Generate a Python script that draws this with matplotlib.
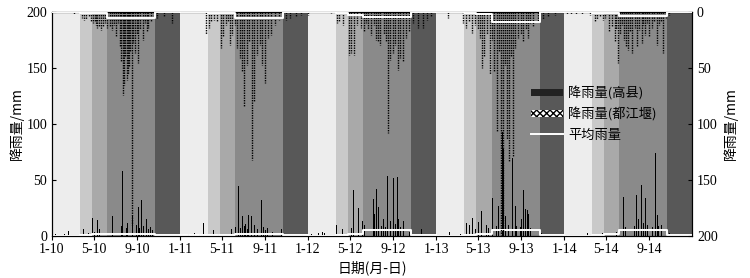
import numpy as np
import matplotlib
matplotlib.use('Agg')
import matplotlib.pyplot as plt
from matplotlib.patches import Patch
from matplotlib.lines import Line2D

plt.rcParams['font.family'] = ['Liberation Serif', 'DejaVu Serif']
cjk = ['Noto Sans CJK SC', 'DejaVu Sans']

years = [2010, 2011, 2012, 2013, 2014]
year_start = [0, 365, 730, 1096, 1461]
year_end = 1826
tick_doy = [0, 120, 243]          # 1-1, 5-1, 9-1
month_lbl = ['1', '5', '9']

# season bands (day of year) and their grey levels
band_edges = [0, 80, 114, 158, 295, 365]
band_colors = ['#ededed', '#c9c9c9', '#a9a9a9', '#8a8a8a', '#585858']

# seasonal mean rainfall (mm) per band, per year
gx_avg = [[0.3, 0.5, 1.8, 1.8, 0.5],
          [0.5, 0.8, 1.2, 1.8, 0.5],
          [0.3, 0.5, 1.8, 5.5, 0.5],
          [0.3, 0.5, 1.8, 5.5, 0.5],
          [0.3, 0.5, 1.8, 5.5, 0.5]]
djy_avg = [[0.3, 0.5, 0.5, 5.6, 0.3],
           [0.3, 0.5, 0.5, 5.6, 0.3],
           [0.3, 0.5, 2.7, 4.5, 0.3],
           [0.3, 0.5, 1.5, 9.2, 0.3],
           [0.3, 0.5, 1.0, 3.3, 0.3]]

# 高县 daily rainfall, (day of year, mm)
gx_day = [
    [10, 20, 35, 48, 66, 90, 105, 116, 122, 129, 135, 140, 148, 154, 160, 166, 173, 180, 186, 194, 198, 202, 205,
     208, 212, 216, 220, 225, 230, 234, 237, 242, 246, 250, 256, 262, 270, 276, 281, 286, 291, 300, 317, 331, 345],
    [9, 25, 41, 55, 68, 80, 95, 110, 120, 131, 140, 148, 158, 167, 173, 179, 184, 188, 192, 196, 200, 204, 209,
     213, 217, 222, 232, 238, 245, 250, 257, 265, 274, 283, 290, 300, 314, 331, 350],
    [10, 31, 41, 48, 82, 98, 115, 124, 131, 134, 144, 149, 155, 162, 172, 177, 183, 187, 191, 196, 202, 206, 211,
     216, 222, 227, 231, 235, 240, 245, 250, 256, 259, 264, 273, 280, 290, 324, 340],
    [10, 38, 70, 86, 95, 103, 112, 120, 130, 137, 143, 150, 160, 168, 173, 177, 182, 185, 189, 192, 197, 202, 207,
     211, 218, 222, 226, 230, 234, 240, 244, 250, 255, 260, 263, 270, 276, 285, 300, 333, 350],
    [7, 20, 45, 66, 88, 94, 110, 128, 134, 140, 150, 154, 157, 165, 170, 176, 182, 188, 194, 200, 206, 212, 220,
     226, 232, 238, 245, 252, 261, 266, 270, 278, 285, 300, 330],
]
gx_mm = [
    [1.5, 1, 2, 4.5, 5.5, 6, 3, 16, 4, 14, 6, 9, 5, 15, 7, 9, 18, 6, 11, 32, 9, 58, 14,
     26, 7, 12, 33, 6, 19, 8, 16, 10, 26, 7, 32, 9, 15, 6, 8, 5, 14, 3, 8, 5, 2],
    [4, 2, 3, 2, 12, 3, 5, 2, 3.5, 10, 4, 6, 8, 45, 7, 18, 9, 11, 6, 19, 8, 18, 21,
     10, 13, 6, 32, 8, 5, 7, 5, 4, 10, 9.5, 6, 3, 3.5, 3, 2],
    [2, 3, 4, 3, 10, 6, 4, 7, 41, 12, 25, 24, 13, 10, 40, 51, 96, 33, 20, 42, 26, 13, 9,
     15, 8, 54, 10, 13, 9, 52, 11, 53, 15, 8, 13, 8.5, 4, 6, 3],
    [1, 4, 2, 11.6, 9.5, 16, 6, 12.5, 22, 8, 10, 7, 34, 13.7, 9, 27, 12, 87, 93, 78, 18, 40, 10,
     66, 70, 14, 27, 9, 22, 8, 15.5, 41, 24.5, 23, 20, 7, 11.6, 5, 3, 5.6, 2],
    [1, 1, 4, 3, 34, 10, 3, 10, 7, 5, 4, 21, 22, 10, 35, 8, 10, 20, 12, 9, 36.6, 15, 45.5,
     12, 34, 10, 14, 8, 73.8, 18.8, 9, 10, 7, 3, 2],
]

# 都江堰 daily rainfall, (day of year, mm), drawn downward on the right axis
djy_day = [
    [63, 85, 92, 98, 105, 112, 118, 122, 125, 128, 134, 140, 146, 152, 158, 165, 170, 177, 184, 189, 194, 198,
     202, 206, 209, 213, 217, 220, 224, 228, 232, 237, 242, 246, 252, 260, 265, 270, 275, 282, 290, 300, 320, 343],
    [74, 83, 90, 97, 105, 116, 122, 131, 137, 143, 150, 157, 164, 171, 177, 183, 190, 198, 205, 211, 220, 228,
     234, 243, 251, 259, 270, 284, 303, 315, 330, 345],
    [0, 65, 83, 90, 100, 117, 124, 132, 140, 151, 159, 166, 172, 181, 188, 195, 199, 206, 216, 223, 229, 234,
     242, 250, 256, 263, 271, 280, 288, 299, 315, 328, 339, 351],
    [34, 76, 86, 95, 103, 110, 118, 124, 130, 137, 144, 154, 160, 166, 173, 179, 185, 190, 196, 202, 209, 214,
     219, 226, 234, 241, 249, 255, 261, 268, 276, 290, 304, 320, 340],
    [7, 20, 35, 50, 73, 87, 94, 102, 110, 118, 127, 136, 144, 149, 154, 160, 166, 172, 178, 183, 189, 195, 201,
     207, 214, 221, 226, 231, 237, 243, 250, 257, 264, 270, 276, 281, 290, 300],
]
djy_mm = [
    [2, 5, 7, 6, 4, 8, 10, 9, 12, 14, 13, 16, 13, 10, 14, 13, 16, 12, 22, 10, 31, 45,
     74, 65, 40, 61, 55, 49, 35, 190, 28, 37, 20, 46, 15, 25, 10, 18, 14, 8, 6, 5, 4, 10],
    [20, 14.6, 9, 7, 8, 32, 22, 11.6, 9, 29.5, 20.5, 12, 32, 41, 53, 84.5, 47, 26, 132, 80, 38.4, 29.5,
     47, 63.7, 23.5, 20.5, 11.6, 7, 7, 5, 4, 3],
    [2.7, 1.2, 10, 8, 11.6, 38, 37, 38, 12, 14.6, 17.6, 10, 15, 20.5, 12, 25, 26, 29.5, 20, 26, 108, 43,
     37, 29.5, 52, 41, 45, 23.5, 17, 10, 14.6, 14, 7, 4],
    [5.7, 10, 14.6, 8, 19, 12, 15, 23.5, 50, 40, 20, 55, 25, 53, 107, 35, 199, 196, 47, 113, 134, 40,
     129, 32, 23.5, 20, 27, 15, 23.5, 10, 13.5, 8, 6, 4.5, 3],
    [1.5, 2, 1.5, 2, 3, 8.6, 6, 4.5, 7, 5, 17.6, 13, 26.5, 15, 45.8, 20, 12, 25, 30, 34, 18, 37, 14,
     31, 16, 28, 12, 20.5, 10, 22, 14, 9, 29.5, 12, 8, 37, 5, 3],
]

fig = plt.figure(figsize=(7.5, 2.78), dpi=100)
ax = fig.add_axes([0.0693, 0.151, 0.8534, 0.806])
ax2 = ax.twinx()

for i, y0 in enumerate(year_start):
    for j in range(5):
        ax.axvspan(y0 + band_edges[j], y0 + band_edges[j + 1], color=band_colors[j], lw=0, zorder=0)
    ax.bar(y0 + np.array(gx_day[i]), gx_mm[i], width=1.8, color='black', lw=0, zorder=2)
    ax2.vlines(y0 + np.array(djy_day[i]), 0, djy_mm[i], colors='black', lw=1.0,
               linestyles=(0, (1, 0.8)), zorder=2)
    xs = y0 + np.array(band_edges)
    ax.plot(xs, gx_avg[i] + [gx_avg[i][-1]], drawstyle='steps-post', color='white', lw=1.4, zorder=4)
    ax2.plot(xs, djy_avg[i] + [djy_avg[i][-1]], drawstyle='steps-post', color='white', lw=1.4, zorder=4)

ax.set_xlim(0, year_end)
ax.set_ylim(0, 200)
ax2.set_ylim(200, 0)
ax.set_yticks([0, 50, 100, 150, 200])
ax2.set_yticks([0, 50, 100, 150, 200])

xt, xl = [], []
for yr, y0 in zip(years, year_start):
    for d, m in zip(tick_doy, month_lbl):
        xt.append(y0 + d)
        xl.append(f'{m}-{yr % 100}')
ax.set_xticks(xt)
ax.set_xticklabels(xl)

ax.tick_params(axis='y', direction='in', length=3, labelsize=10)
ax2.tick_params(axis='y', direction='in', length=3, labelsize=10)
ax.tick_params(axis='x', direction='out', length=3, labelsize=10, pad=2)
for a in (ax, ax2):
    for s in a.spines.values():
        s.set_linewidth(0.8)

ax.set_ylabel('降雨量/mm', family=cjk, fontsize=10, labelpad=2)
ax2.set_ylabel('降雨量/mm', family=cjk, fontsize=10, rotation=90, labelpad=4)
ax.set_xlabel('日期(月-日)', family=cjk, fontsize=10, labelpad=3)

handles = [Patch(facecolor='#222222', edgecolor='none'),
           Patch(facecolor='white', edgecolor='black', hatch='xxxxx', lw=0),
           Line2D([], [], color='white', lw=1.4)]
ax2.legend(handles, ['降雨量(高县)', '降雨量(都江堰)', '平均雨量'], loc='center left',
           bbox_to_anchor=(0.73, 0.545), frameon=False, prop={'family': cjk, 'size': 9.5},
           handlelength=2.4, handleheight=0.5, labelspacing=0.55, handletextpad=0.4)

fig.savefig('out.png', dpi=100)
